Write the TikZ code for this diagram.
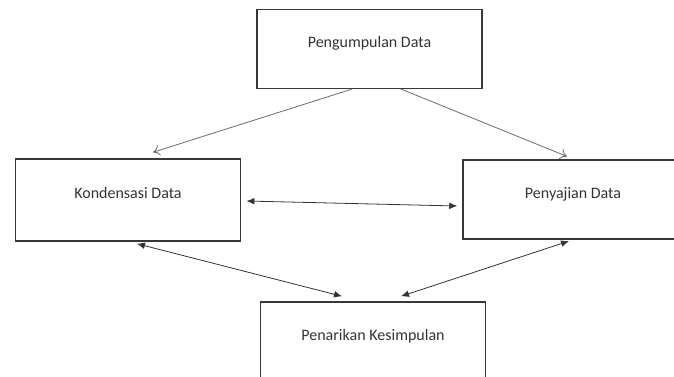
\documentclass[tikz,border=0pt]{standalone}
\usepackage{fontspec}
\setmainfont{Carlito}
\usepackage{tikz}
\usetikzlibrary{positioning, calc, arrows, arrows.meta}
\definecolor{boxgray}{rgb}{0.22, 0.22, 0.22}
\definecolor{linegray}{rgb}{0.42, 0.42, 0.42}
\definecolor{textgray}{rgb}{0.2, 0.2, 0.2}

\begin{document}
\begin{tikzpicture}[x=0.75pt, y=-0.75pt, every node/.style={font=\fontsize{12}{14}\selectfont}]
		\tikzstyle{stage}=[draw=boxgray, line width=1.1pt, minimum height=59pt, minimum width=169pt, fill=none, text=textgray, text depth=10pt, inner sep=0pt]
		\tikzstyle{flow}=[draw=linegray, line width=0.6pt, -{To[length=5pt, width=8pt]}]
		\tikzstyle{link}=[draw=black!80, line width=0.6pt, {Latex[length=6pt, width=5pt]}-{Latex[length=6pt, width=5pt]}]
		
		\useasboundingbox (0,0) rectangle (674,376);
		\clip (0,0) rectangle (674,376);
		
		%%	the four stages
		\node [stage] (pengumpulan) at (369.5,49) {Pengumpulan Data};
		\node [stage, minimum height=61.5pt] (kondensasi) at (128,200) {Kondensasi Data};
		\node [stage, minimum width=165pt] (penyajian) at (573,199.5) {Penyajian Data};
		\node [stage, minimum height=60pt] (penarikan) at (373,342) {Penarikan Kesimpulan};
		
		%%	data flows down from the top
		\draw [flow] ($(pengumpulan.south)+(-17.5,0)$) -- ($(kondensasi.north)+(25,-6)$);
		\draw [flow] ($(pengumpulan.south)+(31.5,0)$) -- ($(penyajian.north)+(-6,-3)$);
		
		%%	two-way links
		\draw [link] ($(kondensasi.east)+(5,1)$) -- ($(penyajian.west)+(-5,6.5)$);
		\draw [link] ($(kondensasi.south)+(9,2)$) -- ($(penarikan.north)+(-31,-5)$);
		\draw [link] ($(penyajian.south)+(-4,1.5)$) -- ($(penarikan.north)+(28,-5)$);
		%%	
\end{tikzpicture}
\end{document}
